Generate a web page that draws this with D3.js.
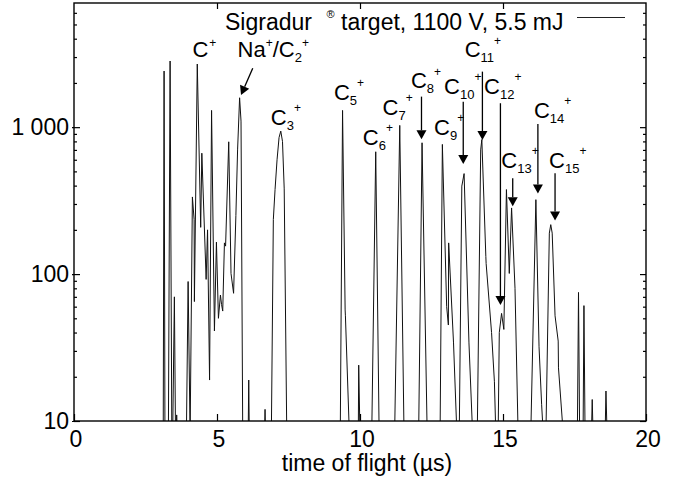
<!DOCTYPE html>
<html><head><meta charset="utf-8">
<script src="https://cdn.jsdelivr.net/npm/d3@7/dist/d3.min.js"></script>
<style>
body{margin:0;background:#fff}
text{font-family:"Liberation Sans",Arial,Helvetica,sans-serif;fill:#000}
</style>
</head><body>
<svg id="chart" width="682" height="483"></svg>
<script>
// ---- data ----
const timeOfFlight = [3.00,3.12,3.15,3.18,3.30,3.36,3.42,3.45,3.51,3.55,3.58,3.59,3.61,3.93,3.99,4.06,4.14,4.20,4.21,4.31,4.43,4.47,4.62,4.67,4.74,4.81,4.91,4.98,5.05,5.12,5.16,5.20,5.26,5.30,5.41,5.49,5.58,5.66,5.72,5.79,5.84,5.90,
6.09,6.11,6.13,6.66,6.68,6.70,6.90,6.97,7.03,7.10,7.17,7.23,7.29,7.35,7.44,
9.31,9.39,9.48,9.49,9.63,9.94,9.955,10.00,10.41,10.55,10.67,11.21,11.39,11.54,12.05,12.17,12.35,
12.80,12.88,13.03,13.09,13.10,13.27,13.39,13.47,13.56,13.64,13.81,13.94,
14.10,14.22,14.26,14.40,14.41,14.60,14.70,14.75,14.83,14.87,14.95,15.03,15.12,15.22,15.30,15.42,15.53,
15.97,16.15,16.26,16.35,16.41,16.50,16.62,16.67,16.72,16.82,16.93,16.94,17.11,
17.60,17.64,17.68,17.80,17.83,17.87,18.09,18.12,18.15,18.57,18.60,18.64,20.00];
const intensity = [5,8,2410,8,8,2820,8,8,70,8,8,11,8,8,89,8,335,235,65,2690,208,665,92,200,19,1300,41,165,50,72,62,56,163,155,795,101,74,250,700,1585,1100,8,
8,19,8,8,12,8,8,235,376,600,850,940,800,380,8,
8,1300,57,52,8,8,24,8,8,680,8,8,1028,8,8,783,8,
8,763,60,45,163,34,8,8,397,483,34,8,
8,700,824,132,118,40,18.5,8,8,40,54,42,376,101,282,80,8,
8,321,32,13,8,8,190,217,190,52,35,23,8,
8,75,8,8,61,8,8,14,8,8,16,8,5];

const xTickValues = [0,5,10,15,20];
const yTickValues = [10,100,1000];
const yTickLabels = ["10","100","1 000"];
const axisTitle = "time of flight (\u00b5s)";
const legendName = "Sigradur";
const legendMark = "\u00ae";
const legendRest = "target, 1100 V, 5.5 mJ";

// ion labels: segments [text, role], anchor in data coords (t, counts)
const labelSegments = [
  [["C","n"],["+","sup"]],
  [["Na","n"],["+","sup"],["/C","n"],["2","sub"],["+","sup"]],
  [["C","n"],["3","sub"],["+","sup"]],
  [["C","n"],["5","sub"],["+","sup"]],
  [["C","n"],["6","sub"],["+","sup"]],
  [["C","n"],["7","sub"],["+","sup"]],
  [["C","n"],["8","sub"],["+","sup"]],
  [["C","n"],["9","sub"],["+","sup"]],
  [["C","n"],["10","sub"],["+","sup"]],
  [["C","n"],["11","sub"],["+","sup"]],
  [["C","n"],["12","sub"],["+","sup"]],
  [["C","n"],["13","sub"],["+","sup"]],
  [["C","n"],["14","sub"],["+","sup"]],
  [["C","n"],["15","sub"],["+","sup"]]
];
const labelT = [4.14,5.72,6.88,9.09,10.10,10.79,11.78,12.59,12.94,13.66,14.34,14.94,16.08,16.61];
const labelV = [3020,3020,1035,1531,757,1211,1840,885,1683,2992,1683,528,1155,528];

// arrows: start (t,v) -> tip (t,v)
const arrowT1 = [6.25,12.15,13.61,14.28,14.91,15.34,16.22,16.82];
const arrowV1 = [2518,1614,1492,2388,1455,449,1052,485];
const arrowT2 = [5.84,12.15,13.61,14.28,14.91,15.34,16.22,16.82];
const arrowV2 = [1656,827,561,818,61.6,290,353,232];

// ---- layout ----
const L = 74, R = 646, T = 3, B = 421;
const svg = d3.select("#chart");
const x = d3.scaleLinear().domain([0,20]).range([L,R]);
const y = d3.scaleLog().domain([10,7000]).range([B,T]);

svg.append("defs").append("clipPath").attr("id","plotclip")
  .append("rect").attr("x",L).attr("y",T).attr("width",R-L).attr("height",B-T);

// spectrum line
const pts = timeOfFlight.map((t,i)=>[t,intensity[i]]);
svg.append("path").datum(pts)
  .attr("clip-path","url(#plotclip)")
  .attr("fill","none").attr("stroke","#111").attr("stroke-width",1)
  .attr("stroke-linejoin","miter")
  .attr("d", d3.line().x(d=>x(d[0])).y(d=>y(d[1])));

// minor ticks
const minor = [];
[10,100,1000].forEach(d=>{for(let k=2;k<=9;k++){ if(k*d<7000) minor.push(k*d);} });

function styleAxis(g){
  g.select(".domain").remove();
  g.selectAll(".tick line").attr("stroke","#000").attr("stroke-width",1.2);
}
// left major
const gl = svg.append("g").attr("transform",`translate(${L},0)`)
  .call(d3.axisLeft(y).tickValues(yTickValues).tickSizeInner(-6).tickSizeOuter(0).tickPadding(5)
    .tickFormat((d,i)=>yTickLabels[i]));
styleAxis(gl);
gl.selectAll(".tick text").attr("font-size",23).attr("font-family","Liberation Sans, Arial, sans-serif").attr("fill","#000");
gl.selectAll(".tick").append("line").attr("x1",-2).attr("x2",0).attr("stroke","#000").attr("stroke-width",1.2);
// left minor
styleAxis(svg.append("g").attr("transform",`translate(${L},0)`)
  .call(d3.axisLeft(y).tickValues(minor).tickSizeInner(-3).tickSizeOuter(0).tickFormat("")));
// right
styleAxis(svg.append("g").attr("transform",`translate(${R},0)`)
  .call(d3.axisRight(y).tickValues(yTickValues).tickSizeInner(-6).tickSizeOuter(0).tickFormat("")));
styleAxis(svg.append("g").attr("transform",`translate(${R},0)`)
  .call(d3.axisRight(y).tickValues(minor).tickSizeInner(-3).tickSizeOuter(0).tickFormat("")));
// bottom
const gb = svg.append("g").attr("transform",`translate(0,${B})`)
  .call(d3.axisBottom(x).tickValues(xTickValues).tickSizeInner(-7).tickSizeOuter(0).tickPadding(10)
    .tickFormat(d3.format("d")));
styleAxis(gb);
gb.selectAll(".tick text").attr("font-size",23).attr("font-family","Liberation Sans, Arial, sans-serif").attr("fill","#000").attr("dx",1.5);
// top
styleAxis(svg.append("g").attr("transform",`translate(0,${T})`)
  .call(d3.axisTop(x).tickValues([5,10,15]).tickSizeInner(-6).tickSizeOuter(0).tickFormat("")));

// frame
svg.append("rect").attr("x",L).attr("y",T).attr("width",R-L).attr("height",B-T)
  .attr("fill","none").attr("stroke","#000").attr("stroke-width",1.4);

// axis title
svg.append("text").attr("x",(L+R)/2+7).attr("y",471).attr("text-anchor","middle")
  .attr("font-size",23).text(axisTitle);

// legend
svg.append("text").attr("x",225).attr("y",30).attr("font-size",23).text(legendName);
svg.append("text").attr("x",326.5).attr("y",18).attr("font-size",11).text(legendMark);
svg.append("text").attr("x",341).attr("y",30).attr("font-size",23).text(legendRest);
svg.append("line").attr("x1",577).attr("x2",625).attr("y1",17.5).attr("y2",17.5)
  .attr("stroke","#222").attr("stroke-width",1);

// ion labels
labelSegments.forEach((segs,i)=>{
  const t = svg.append("text").attr("x",x(labelT[i])).attr("y",y(labelV[i])).attr("font-size",22);
  let level = 0; // offset from main baseline
  const hasSub = segs.some(s=>s[1]==="sub");
  segs.forEach(([txt,role],j)=>{
    let target = 0, size = 22;
    if(role==="sub"){ target = 5; size = 13; }
    if(role==="sup"){ target = (hasSub && i!==1) ? -12.5 : -9.5; size = 12; }
    const ts = t.append("tspan").attr("font-size",size).attr("dy",target-level).text(txt);
    if(role==="sup" && !hasSub) ts.attr("dx",1);
    level = target;
  });
});

// arrows
arrowT1.forEach((t1,i)=>{
  const x1 = x(t1), y1 = y(arrowV1[i]), x2 = x(arrowT2[i]), y2 = y(arrowV2[i]);
  const dx = x2-x1, dy = y2-y1, len = Math.hypot(dx,dy), ux = dx/len, uy = dy/len;
  const hl = 9, hw = 5;
  const bx = x2-ux*hl, by = y2-uy*hl;
  svg.append("line").attr("x1",x1).attr("y1",y1).attr("x2",bx).attr("y2",by)
    .attr("stroke","#000").attr("stroke-width",1.3);
  svg.append("path").attr("fill","#000")
    .attr("d",`M${x2},${y2}L${bx-uy*hw},${by+ux*hw}L${bx+uy*hw},${by-ux*hw}Z`);
});
</script>
</body></html>
